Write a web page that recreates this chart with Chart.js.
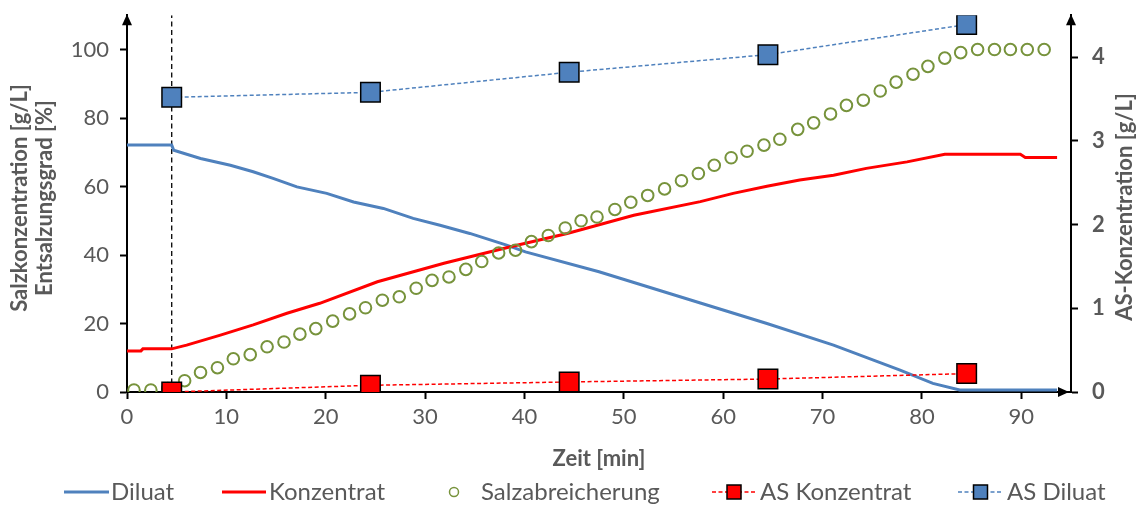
<!DOCTYPE html>
<html lang="de">
<head>
<meta charset="utf-8">
<title>Salzkonzentration und AS-Konzentration</title>
<script src="https://cdn.jsdelivr.net/npm/chart.js@4.4.1/dist/chart.umd.min.js"></script>
<style>
    html, body { margin: 0; padding: 0; background: #fff; }
    canvas { display: block; }
</style>
</head>
<body>
<canvas id="chart" width="1143" height="507"></canvas>
<script>
// Diluat / Konzentrat (g/L over minutes)
const diluatTime = [0, 4.5, 4.7, 7.4, 10.4, 12.7, 14.7, 17.1, 20.1, 22.8, 25.8, 28.8, 31.5, 34.5, 38.2, 40.1, 47.5, 57.7, 64.4, 71.1, 77.8, 81.1, 83.8, 93.6];
const diluatConc = [72.1, 72.1, 70.6, 68.2, 66.2, 64.3, 62.4, 59.9, 58.0, 55.5, 53.6, 50.7, 48.7, 46.3, 42.9, 40.9, 35.1, 26.0, 20.0, 13.7, 6.4, 2.5, 0.6, 0.6];

const konzTime = [0, 1.4, 1.6, 4.5, 6.0, 9.4, 12.7, 16.1, 19.4, 25.2, 31.9, 38.6, 44.3, 51.0, 57.7, 61.0, 64.4, 67.7, 71.1, 74.4, 78.5, 82.3, 89.9, 90.4, 93.6];
const konzConc = [12.0, 12.0, 12.6, 12.6, 13.7, 16.6, 19.6, 23.0, 25.9, 32.2, 37.6, 42.4, 46.3, 51.6, 55.6, 58.0, 60.1, 61.9, 63.3, 65.3, 67.2, 69.4, 69.4, 68.5, 68.5];

// Salzabreicherung (%)
const salzTime = [0.7, 2.4, 4.1, 5.8, 7.4, 9.1, 10.7, 12.4, 14.1, 15.8, 17.4, 19.0, 20.7, 22.4, 24.0, 25.7, 27.4, 29.1, 30.7, 32.4, 34.1, 35.7, 37.4, 39.1, 40.7, 42.4, 44.1, 45.7, 47.3, 49.1, 50.7, 52.4, 54.1, 55.8, 57.5, 59.1, 60.8, 62.4, 64.1, 65.7, 67.5, 69.1, 70.8, 72.4, 74.1, 75.8, 77.4, 79.1, 80.6, 82.3, 83.9, 85.6, 87.3, 88.9, 90.6, 92.3];
const salzValue = [0.6, 0.6, 1.0, 3.3, 5.7, 7.1, 9.7, 10.9, 13.2, 14.6, 16.9, 18.5, 20.7, 22.8, 24.6, 26.8, 27.8, 30.3, 32.6, 33.6, 35.8, 38.1, 40.6, 41.4, 43.9, 45.7, 47.9, 50.0, 51.1, 53.3, 55.4, 57.4, 59.3, 61.7, 63.8, 66.2, 68.4, 70.3, 72.1, 73.8, 76.7, 78.6, 81.2, 83.7, 85.2, 87.9, 90.5, 92.8, 95.1, 97.5, 99.1, 100, 100, 100, 100, 100];

// AS samples (g/L, right axis)
const asTime = [4.5, 24.5, 44.5, 64.5, 84.5];
const asKonzentrat = [0.0, 0.08, 0.12, 0.155, 0.22];
const asDiluat = [3.52, 3.58, 3.82, 4.03, 4.39];

// start of the run
const startTime = 4.5;

const xTicks = [0, 10, 20, 30, 40, 50, 60, 70, 80, 90];
const yTicks = [0, 20, 40, 60, 80, 100];
const y2Ticks = [0, 1, 2, 3, 4];

const labels = ['Diluat', 'Konzentrat', 'Salzabreicherung', 'AS Konzentrat', 'AS Diluat'];
const xTitle = 'Zeit [min]';
const yTitle = ['Salzkonzentration [g/L]', 'Entsalzungsgrad [%]'];
const y2Title = 'AS-Konzentration [g/L]';

const BLUE = '#4F81BD';
const RED = '#FF0000';
const GREEN = '#77933C';
const GREY = '#595959';
const FONT = 'Lato, "Open Sans", sans-serif';

const pts = (xs, ys) => xs.map((x, i) => ({ x: x, y: ys[i] }));

const datasets = [
    {
        label: 'start',
        data: [{ x: startTime, y: 0 }, { x: startTime, y: 110 }],
        yAxisID: 'y',
        showLine: true,
        borderColor: '#000',
        borderWidth: 1.3,
        borderDash: [5, 3.5],
        pointRadius: 0,
        order: 6
    },
    {
        label: labels[0],
        data: pts(diluatTime, diluatConc),
        yAxisID: 'y',
        showLine: true,
        borderColor: BLUE,
        borderWidth: 3,
        pointRadius: 0,
        order: 5
    },
    {
        label: labels[1],
        data: pts(konzTime, konzConc),
        yAxisID: 'y',
        showLine: true,
        borderColor: RED,
        borderWidth: 3,
        pointRadius: 0,
        order: 4
    },
    {
        label: labels[2],
        data: pts(salzTime, salzValue),
        yAxisID: 'y',
        showLine: false,
        pointStyle: 'circle',
        pointRadius: 5.8,
        pointBorderWidth: 2,
        pointBorderColor: GREEN,
        pointBackgroundColor: 'rgba(255,255,255,0)',
        order: 3
    },
    {
        label: labels[3],
        data: pts(asTime, asKonzentrat),
        yAxisID: 'y2',
        showLine: true,
        borderColor: RED,
        borderWidth: 1.5,
        borderDash: [4, 2.5],
        pointStyle: 'rect',
        pointRadius: 13.8,
        pointBorderWidth: 1.5,
        pointBorderColor: '#000',
        pointBackgroundColor: RED,
        order: 2
    },
    {
        label: labels[4],
        data: pts(asTime, asDiluat),
        yAxisID: 'y2',
        showLine: true,
        borderColor: BLUE,
        borderWidth: 1.5,
        borderDash: [4, 2.5],
        pointStyle: 'rect',
        pointRadius: 13.8,
        pointBorderWidth: 1.5,
        pointBorderColor: '#000',
        pointBackgroundColor: BLUE,
        order: 1
    }
];

// arrowheads on the three axes
const axisArrows = {
    id: 'axisArrows',
    afterDraw(chart) {
        const { ctx, chartArea: a } = chart;
        ctx.save();
        ctx.fillStyle = '#000';
        const up = (x) => {
            ctx.beginPath();
            ctx.moveTo(x, a.top - 1);
            ctx.lineTo(x - 5, a.top + 10);
            ctx.lineTo(x + 5, a.top + 10);
            ctx.closePath();
            ctx.fill();
        };
        up(a.left);
        up(a.right);
        ctx.beginPath();
        ctx.moveTo(a.right - 2, a.bottom);
        ctx.lineTo(a.right - 13, a.bottom - 5);
        ctx.lineTo(a.right - 13, a.bottom + 5);
        ctx.closePath();
        ctx.fill();
        ctx.restore();
    }
};

// axis titles (right one reads bottom to top like the left)
const axisTitles = {
    id: 'axisTitles',
    afterDraw(chart) {
        const { ctx, chartArea: a } = chart;
        ctx.save();
        ctx.fillStyle = GREY;
        ctx.font = 'bold 22px ' + FONT;
        ctx.textAlign = 'center';
        ctx.textBaseline = 'middle';
        ctx.fillText(xTitle, (a.left + a.right) / 2, 459);

        ctx.save();
        ctx.translate(0, 198);
        ctx.rotate(-Math.PI / 2);
        ctx.fillText(yTitle[0], 0, 20);
        ctx.fillText(yTitle[1], 0, 45);
        ctx.restore();

        ctx.translate(1125, 207);
        ctx.rotate(-Math.PI / 2);
        ctx.fillText(y2Title, 0, 0);
        ctx.restore();
    }
};

// legend row under the x axis title
const legendRow = {
    id: 'legendRow',
    afterDraw(chart) {
        const { ctx } = chart;
        const y = 492;
        const ds = chart.data.datasets;
        const items = [
            { set: ds[1], x0: 64, x1: 109, tx: 111, kind: 'line' },
            { set: ds[2], x0: 222, x1: 266, tx: 269, kind: 'line' },
            { set: ds[3], x0: 454, x1: 454, tx: 481, kind: 'circle' },
            { set: ds[4], x0: 712, x1: 756, tx: 760, kind: 'marker' },
            { set: ds[5], x0: 958, x1: 1003, tx: 1007, kind: 'marker' }
        ];
        ctx.save();
        ctx.font = '24px ' + FONT;
        ctx.textBaseline = 'middle';
        ctx.textAlign = 'left';
        items.forEach(it => {
            const s = it.set;
            if (it.kind === 'line') {
                ctx.strokeStyle = s.borderColor;
                ctx.lineWidth = s.borderWidth;
                ctx.beginPath();
                ctx.moveTo(it.x0, y);
                ctx.lineTo(it.x1, y);
                ctx.stroke();
            } else if (it.kind === 'circle') {
                ctx.strokeStyle = s.pointBorderColor;
                ctx.lineWidth = 1.5;
                ctx.beginPath();
                ctx.arc(it.x0, y, 4.5, 0, Math.PI * 2);
                ctx.stroke();
            } else {
                ctx.strokeStyle = s.borderColor;
                ctx.lineWidth = s.borderWidth;
                ctx.setLineDash(s.borderDash);
                ctx.beginPath();
                ctx.moveTo(it.x0, y);
                ctx.lineTo(it.x1, y);
                ctx.stroke();
                ctx.setLineDash([]);
                const cx = (it.x0 + it.x1) / 2;
                ctx.fillStyle = s.pointBackgroundColor;
                ctx.fillRect(cx - 7, y - 7, 14, 14);
                ctx.strokeStyle = '#000';
                ctx.lineWidth = 1.5;
                ctx.strokeRect(cx - 7, y - 7, 14, 14);
            }
            ctx.fillStyle = GREY;
            ctx.fillText(s.label, it.tx, y);
        });
        ctx.restore();
    }
};

const tickFont = { family: FONT, size: 22 };
const axisBase = {
    type: 'linear',
    grid: { drawOnChartArea: false, drawTicks: true, tickLength: 7, tickColor: '#000', tickWidth: 2 },
    border: { display: true, color: '#000', width: 2 }
};
const noPad = s => { s.paddingTop = 0; s.paddingBottom = 0; s.paddingLeft = 0; s.paddingRight = 0; };

new Chart(document.getElementById('chart'), {
    type: 'scatter',
    data: { datasets: datasets },
    options: {
        responsive: false,
        animation: false,
        layout: { padding: { top: 15, left: 0, right: 0, bottom: 0 } },
        plugins: {
            legend: { display: false },
            tooltip: { enabled: false }
        },
        scales: {
            x: Object.assign({}, axisBase, {
                position: 'bottom',
                min: 0,
                max: 95,
                afterFit: s => { noPad(s); s.height = 115; },
                afterBuildTicks: s => { s.ticks = xTicks.map(v => ({ value: v })); },
                ticks: { font: tickFont, color: GREY, padding: 5, maxRotation: 0 }
            }),
            y: Object.assign({}, axisBase, {
                position: 'left',
                min: 0,
                max: 110,
                afterFit: s => { noPad(s); s.width = 127; },
                afterBuildTicks: s => { s.ticks = yTicks.map(v => ({ value: v })); },
                ticks: { font: tickFont, color: GREY, padding: 11 }
            }),
            y2: Object.assign({}, axisBase, {
                position: 'right',
                min: 0,
                max: 4.5,
                afterFit: s => { noPad(s); s.width = 72; },
                afterBuildTicks: s => { s.ticks = y2Ticks.map(v => ({ value: v })); },
                ticks: { font: Object.assign({}, tickFont, { weight: 'bold' }), color: GREY, padding: 14 }
            })
        }
    },
    plugins: [axisArrows, axisTitles, legendRow]
});
</script>
</body>
</html>
